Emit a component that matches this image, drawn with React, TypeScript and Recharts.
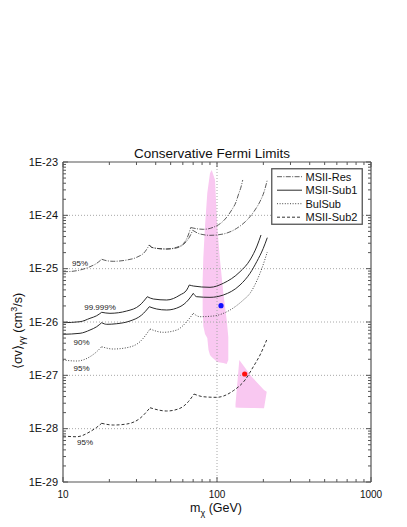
import React from 'react';
import {
  ComposedChart, Line, Area, Scatter, XAxis, YAxis, ReferenceLine, ReferenceDot, Legend, Label,
} from 'recharts';

type Pt = [number, number];

// ---- curves (each curve = list of scallop arcs), x in GeV, y in cm^3/s ----
const msiiResInner: Pt[][] = [
  [[10, 8.77e-26], [11.1, 8.84e-26], [12.9, 9.44e-26], [14.97, 1.088e-25], [16.55, 1.26e-25], [17.83, 1.5e-25]],
  [[17.83, 1.5e-25], [19.22, 1.41e-25], [21.21, 1.374e-25], [25.92, 1.453e-25], [30.1, 1.633e-25], [34.08, 2.08e-25], [36.35, 2.78e-25]],
  [[36.35, 2.78e-25], [37.67, 2.515e-25], [42.65, 2.367e-25], [47.14, 2.337e-25], [54.74, 2.515e-25], [61.97, 3.2e-25], [65.1, 4.28e-25], [67.5, 5.9e-25]],
  [[67.5, 5.9e-25], [73.81, 5.61e-25], [81.47, 5.47e-25], [94.62, 5.97e-25], [109.9, 7.83e-25], [124.6, 1.26e-24], [132.9, 1.78e-24], [137.5, 2.41e-24], [143.2, 3.4e-24], [146.9, 4.6e-24]],
];
const msiiResOuter: Pt[][] = [
  [[36.35, 2.78e-25], [37.67, 2.515e-25], [42.65, 2.367e-25], [47.14, 2.337e-25], [54.74, 2.45e-25], [61.97, 3.03e-25], [66.2, 3.9e-25], [69.53, 5.24e-25]],
  [[69.53, 5.24e-25], [77.55, 4.47e-25], [90.05, 4.22e-25], [109.9, 4.47e-25], [134.3, 5.71e-25], [158.9, 8.53e-25], [176.5, 1.259e-24], [190.2, 1.817e-24], [202, 2.74e-24], [212.1, 4.6e-24]],
];
const msiiSub1_99999: Pt[][] = [
  [[10, 9.7e-27], [12.9, 1.012e-26], [14.97, 1.173e-26], [16.55, 1.312e-26], [17.83, 1.52e-26]],
  [[17.83, 1.52e-26], [20.19, 1.455e-26], [25.92, 1.607e-26], [31.62, 2.083e-26], [35.27, 2.98e-26]],
  [[35.27, 2.98e-26], [38.58, 2.7e-26], [47.14, 2.584e-26], [57.5, 3.207e-26], [63.56, 3.98e-26], [66.08, 4.94e-26]],
  [[66.08, 4.94e-26], [70.16, 4.73e-26], [90.05, 4.47e-26], [109.9, 5.32e-26], [141.1, 8.77e-26], [163.8, 1.453e-25], [181.9, 2.66e-25], [193.1, 4.28e-25]],
];
const msiiSub1_90: Pt[][] = [
  [[10, 5.88e-27], [12.9, 6.14e-27], [14.97, 7.07e-27], [16.55, 8.16e-27], [17.83, 9.7e-27]],
  [[17.83, 9.7e-27], [19.22, 9.05e-27], [22.33, 9.29e-27], [27.23, 1.044e-26], [32.43, 1.352e-26], [36.35, 1.935e-26]],
  [[36.35, 1.935e-26], [40.6, 1.752e-26], [47.14, 1.678e-26], [57.5, 1.935e-26], [65.1, 2.584e-26], [70.16, 3.45e-26]],
  [[70.16, 3.45e-26], [73.81, 2.98e-26], [90.05, 2.9e-26], [109.9, 3.207e-26], [141.1, 4.94e-26], [163.8, 8.18e-26], [181.1, 1.35e-25], [199.8, 2.41e-25], [212.1, 3.81e-25]],
];
const bulSub95: Pt[][] = [
  [[10, 1.938e-27], [12.27, 1.856e-27], [14.97, 2.234e-27], [16.55, 2.773e-27], [17.83, 3.44e-27]],
  [[17.83, 3.44e-27], [21.21, 3.115e-27], [25.92, 3.295e-27], [31.62, 4.27e-27], [36.73, 7.39e-27]],
  [[36.73, 7.39e-27], [44.8, 6.41e-27], [54.74, 7.07e-27], [63.56, 1.012e-26], [70.16, 1.455e-26]],
  [[70.16, 1.455e-26], [77.55, 1.257e-26], [94.62, 1.295e-26], [121.5, 1.678e-26], [148.2, 2.584e-26], [163.8, 3.45e-26], [181.1, 5.87e-26], [196, 1.029e-25], [212.1, 2.053e-25]],
];
const msiiSub2_95: Pt[][] = [
  [[10, 7.28e-29], [12.27, 7.06e-29], [14.97, 8.77e-29], [16.55, 1.06e-28], [17.83, 1.26e-28]],
  [[17.83, 1.26e-28], [21.21, 1.17e-28], [25.92, 1.222e-28], [31.62, 1.563e-28], [36.73, 2.47e-28]],
  [[36.73, 2.47e-28], [47.14, 2.143e-28], [57.5, 2.408e-28], [65.1, 3.2e-28], [70.89, 4.46e-28]],
  [[70.89, 4.46e-28], [81.47, 3.97e-28], [99.5, 3.87e-28], [127.6, 5.15e-28], [152, 8.17e-28], [172.1, 1.45e-27], [190.2, 2.4e-27], [210.2, 4.6e-27]],
];

// ---- shaded regions: [mass, lower, upper] ----
const regionUpper: [number, number, number][] = [
  [80.7, 1.678e-26, 6.13e-26], [81.5, 8.41e-27, 1.585e-25], [83.6, 5.95e-27, 6.31e-25], [86.5, 5.01e-27, 2.62e-24],
  [88.1, 2.98e-27, 3.87e-24], [90.05, 2.4e-27, 6.14e-24], [92.4, 2.2e-27, 7.08e-24], [97.1, 1.938e-27, 4.6e-24],
  [100.4, 1.777e-27, 6.12e-25], [104.6, 1.74e-27, 1.453e-25], [109.9, 1.702e-27, 3.5e-26], [115.6, 1.63e-27, 1.09e-26],
  [118.4, 1.938e-27, 5.23e-27],
];
const regionLower: [number, number, number][] = [
  [131.9, 2.49e-28, 2.9e-28], [139.6, 2.46e-28, 1.938e-27], [168.0, 2.44e-28, 9.42e-28], [202, 2.408e-28, 5.3e-28], [210.2, 4.87e-28, 4.93e-28],
];

// ---- best-fit points ----
const bluePoint = [{ x: 106.2, y: 2.02e-26 }];
const redPoint = [{ x: 151.3, y: 1.06e-27 }];

// ---- confidence labels ----
const clLabels: { x: number; y: number; text: string }[] = [
  { x: 12.9, y: 1.26e-25, text: '95%' },
  { x: 17.4, y: 1.935e-26, text: '99.999%' },
  { x: 13.2, y: 4.16e-27, text: '90%' },
  { x: 13.2, y: 1.39e-27, text: '95%' },
  { x: 13.9, y: 5.55e-29, text: '95%' },
];

// ---- axes ----
const xMajor = [10, 100, 1000];
const xTickLabels = ['10', '100', '1000'];
const yMajor = [1e-29, 1e-28, 1e-27, 1e-26, 1e-25, 1e-24, 1e-23];
const yTickLabels = ['1E-29', '1E-28', '1E-27', '1E-26', '1E-25', '1E-24', '1E-23'];
const minorMult = [2, 3, 4, 5, 6, 7, 8, 9];
const yGrid = [1e-28, 1e-27, 1e-26, 1e-25, 1e-24];
const xGrid = [100];

const legendNames = ['MSII-Res', 'MSII-Sub1', 'BulSub', 'MSII-Sub2'];

const FONT = '"Liberation Sans", Arial, Helvetica, sans-serif';
const AXIS = '#555';

const withMinors = (majors: number[]) => {
  const out: number[] = [];
  majors.forEach((m, i) => {
    out.push(m);
    if (i < majors.length - 1) minorMult.forEach((k) => out.push(m * k));
  });
  return out;
};
const xTicks = withMinors(xMajor);
const yTicks = withMinors(yMajor);
const majorIndex = (majors: number[], v: number) =>
  majors.findIndex((m) => Math.abs(Math.log10(m) - Math.log10(v)) < 1e-6);

const toLine = (arcs: Pt[][]) =>
  arcs.flatMap((arc, i) => [
    ...(i > 0 ? [{ x: arc[0][0], y: null as number | null }] : []),
    ...arc.map(([x, y]) => ({ x, y: y as number | null })),
  ]);
const toRange = (rows: [number, number, number][]) => rows.map(([x, lo, hi]) => ({ x, r: [lo, hi] }));

const styles = {
  res: { stroke: '#333', strokeWidth: 0.8, strokeDasharray: '5 1.4 1 1.4' },
  sub1: { stroke: '#2a2a2a', strokeWidth: 1, strokeDasharray: undefined as string | undefined },
  bul: { stroke: '#444', strokeWidth: 1, strokeDasharray: '1 1.6' },
  sub2: { stroke: '#333', strokeWidth: 1, strokeDasharray: '3 2' },
};
const legendStyles = [styles.res, styles.sub1, styles.bul, styles.sub2];

const BottomTick = (p: any) => {
  const { x, y, payload } = p;
  const i = majorIndex(xMajor, payload.value);
  return (
    <g>
      <line x1={x} x2={x} y1={y} y2={y - (i >= 0 ? 5 : 3)} stroke={AXIS} strokeWidth={1} />
      {i >= 0 && (
        <text x={x} y={y + 16} textAnchor="middle" fontSize={10} fontFamily={FONT} fill="#111">{xTickLabels[i]}</text>
      )}
    </g>
  );
};
const TopTick = (p: any) => {
  const { x, y, payload } = p;
  const i = majorIndex(xMajor, payload.value);
  return <line x1={x} x2={x} y1={y} y2={y + (i >= 0 ? 5 : 3)} stroke={AXIS} strokeWidth={1} />;
};
const LeftTick = (p: any) => {
  const { x, y, payload } = p;
  const i = majorIndex(yMajor, payload.value);
  return (
    <g>
      <line x1={x} x2={x + (i >= 0 ? 5 : 3)} y1={y} y2={y} stroke={AXIS} strokeWidth={1} />
      {i >= 0 && (
        <text x={x - 5} y={y + 3.5} textAnchor="end" fontSize={11} fontFamily={FONT} fill="#111">{yTickLabels[i]}</text>
      )}
    </g>
  );
};
const RightTick = (p: any) => {
  const { x, y, payload } = p;
  const i = majorIndex(yMajor, payload.value);
  return <line x1={x} x2={x - (i >= 0 ? 5 : 3)} y1={y} y2={y} stroke={AXIS} strokeWidth={1} />;
};

const LegendBox = () => (
  <svg width={92} height={57} style={{ display: 'block' }}>
    <rect x={0.75} y={0.75} width={90.5} height={55.5} fill="#fff" stroke="#555" strokeWidth={1.3} />
    {legendNames.map((n, i) => {
      const cy = 8.7 + i * 13.5;
      const s = legendStyles[i];
      return (
        <g key={n}>
          <line x1={6} x2={31} y1={cy} y2={cy} stroke={s.stroke} strokeWidth={s.strokeWidth} strokeDasharray={s.strokeDasharray} />
          <text x={34.5} y={cy + 4} fontSize={11} fontFamily={FONT} fill="#111">{n}</text>
        </g>
      );
    })}
  </svg>
);

const lineCommon = { type: 'monotone' as const, dot: false, activeDot: false, connectNulls: false, isAnimationActive: false, dataKey: 'y' };

export default function App() {
  return (
    <div style={{ position: 'absolute', left: 0, top: 0, width: 407, height: 527, background: '#fff' }}>
      <ComposedChart width={407} height={527} margin={{ top: 161, right: 35, bottom: 0, left: 0 }}>
        <XAxis
          xAxisId="bottom" type="number" dataKey="x" scale="log" domain={[10, 1000]} allowDataOverflow
          ticks={xTicks} interval={0} tickSize={0} tickMargin={0} tickLine={false} tick={BottomTick}
          height={45} axisLine={{ stroke: AXIS, strokeWidth: 1.2 }}
        >
          <Label
            content={(props: any) => {
              const vb = props.viewBox || { x: 63, y: 482, width: 308 };
              const cx = vb.x + vb.width / 2 - 1;
              return (
                <text x={cx} y={vb.y + 30} textAnchor="middle" fontSize={12.5} fontFamily={FONT} fill="#111">
                  m<tspan dy={3.5} fontSize={9}>χ</tspan><tspan dy={-3.5}> (GeV)</tspan>
                </text>
              );
            }}
          />
        </XAxis>
        <XAxis
          xAxisId="top" orientation="top" type="number" dataKey="x" scale="log" domain={[10, 1000]} allowDataOverflow
          ticks={xTicks} interval={0} tickSize={0} tickMargin={0} tickLine={false} tick={TopTick}
          height={1} axisLine={{ stroke: AXIS, strokeWidth: 1.2 }}
        >
          <Label
            content={(props: any) => {
              const vb = props.viewBox || { x: 63, y: 161, width: 308, height: 1 };
              return (
                <text x={vb.x + vb.width / 2 - 5} y={vb.y + (vb.height || 0) - 4} textAnchor="middle" fontSize={13.5} fontFamily={FONT} fill="#111">
                  Conservative Fermi Limits
                </text>
              );
            }}
          />
        </XAxis>
        <YAxis
          yAxisId="left" type="number" dataKey="y" scale="log" domain={[1e-29, 1e-23]} allowDataOverflow
          ticks={yTicks} interval={0} tickSize={0} tickMargin={0} tickLine={false} tick={LeftTick}
          width={63} axisLine={{ stroke: AXIS, strokeWidth: 1.2 }}
        >
          <Label
            content={(props: any) => {
              const vb = props.viewBox || { x: 0, y: 162, width: 63, height: 320 };
              const bx = vb.x + 21.5;
              const cy = vb.y + vb.height / 2 + 9;
              return (
                <text x={bx} y={cy} transform={`rotate(-90, ${bx}, ${cy})`} textAnchor="middle" fontSize={12.5} fontFamily={FONT} fill="#111">
                  ⟨σv⟩<tspan dy={3.5} fontSize={9}>γγ</tspan><tspan dy={-3.5}> (cm</tspan><tspan dy={-5} fontSize={9}>3</tspan><tspan dy={5}>/s)</tspan>
                </text>
              );
            }}
          />
        </YAxis>
        <YAxis
          yAxisId="right" orientation="right" type="number" dataKey="y" scale="log" domain={[1e-29, 1e-23]} allowDataOverflow
          ticks={yTicks} interval={0} tickSize={0} tickMargin={0} tickLine={false} tick={RightTick}
          width={1} axisLine={{ stroke: AXIS, strokeWidth: 1.2 }}
        />

        <Area xAxisId="bottom" yAxisId="left" data={toRange(regionUpper)} dataKey="r" type="linear" fill="#f9c8f1" fillOpacity={1} stroke="none" isAnimationActive={false} />
        <Area xAxisId="bottom" yAxisId="left" data={toRange(regionLower)} dataKey="r" type="linear" fill="#f9c8f1" fillOpacity={1} stroke="none" isAnimationActive={false} />

        {yGrid.map((v) => (
          <ReferenceLine key={`gy${v}`} xAxisId="bottom" yAxisId="left" y={v} stroke="#a8a8a8" strokeDasharray="1 2" strokeWidth={1} />
        ))}
        {xGrid.map((v) => (
          <ReferenceLine key={`gx${v}`} xAxisId="bottom" yAxisId="left" x={v} stroke="#a8a8a8" strokeDasharray="1 2" strokeWidth={1} />
        ))}

        <Line xAxisId="bottom" yAxisId="left" data={toLine(msiiResInner)} {...lineCommon} {...styles.res} />
        <Line xAxisId="top" yAxisId="right" data={toLine(msiiResOuter)} {...lineCommon} {...styles.res} />
        <Line xAxisId="bottom" yAxisId="left" data={toLine(msiiSub1_99999)} {...lineCommon} {...styles.sub1} />
        <Line xAxisId="top" yAxisId="right" data={toLine(msiiSub1_90)} {...lineCommon} {...styles.sub1} />
        <Line xAxisId="bottom" yAxisId="left" data={toLine(bulSub95)} {...lineCommon} {...styles.bul} />
        <Line xAxisId="bottom" yAxisId="left" data={toLine(msiiSub2_95)} {...lineCommon} {...styles.sub2} />

        <Scatter xAxisId="bottom" yAxisId="left" data={bluePoint} dataKey="y" isAnimationActive={false}
          shape={(p: any) => <circle cx={p.cx} cy={p.cy} r={2.6} fill="#1010ff" />} />
        <Scatter xAxisId="top" yAxisId="right" data={redPoint} dataKey="y" isAnimationActive={false}
          shape={(p: any) => <circle cx={p.cx} cy={p.cy} r={2.6} fill="#ff1010" />} />

        {clLabels.map((l, i) => (
          <ReferenceDot key={`cl${i}`} xAxisId="bottom" yAxisId="left" x={l.x} y={l.y} r={1} fill="none" stroke="none"
            label={{ value: l.text, position: 'center', fontSize: 8, fill: '#222', fontFamily: FONT }} />
        ))}

        <Legend layout="vertical" align="center" verticalAlign="middle"
          wrapperStyle={{ position: 'absolute', left: 271, top: 168, width: 92, height: 57, margin: 0, padding: 0 }}
          content={() => <LegendBox />} />
      </ComposedChart>
    </div>
  );
}
